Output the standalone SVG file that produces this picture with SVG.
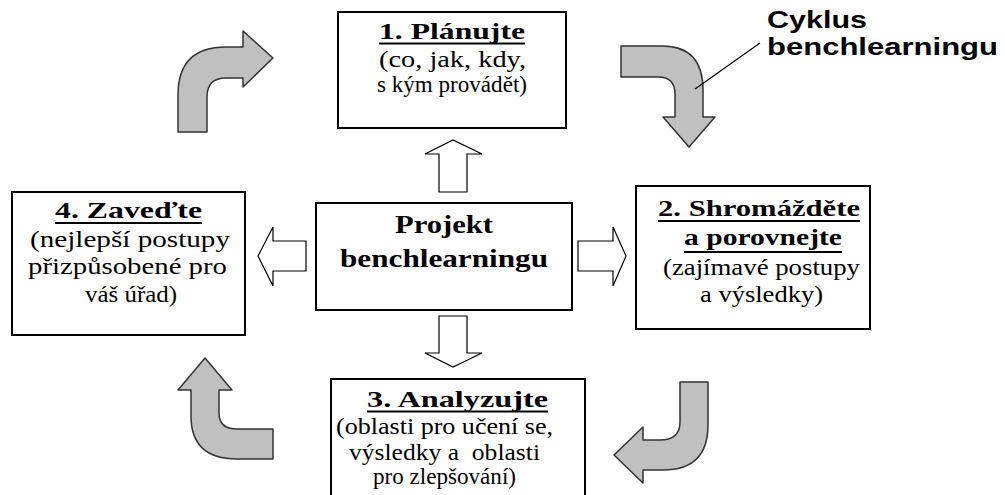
<svg xmlns="http://www.w3.org/2000/svg" width="1005" height="495" viewBox="0 0 1005 495">
<style>
.box{fill:#fff;stroke:#000;stroke-width:2}
.hollow{fill:#fff;stroke:#000;stroke-width:1.2;stroke-linejoin:miter}
.curve{fill:#c0c0c0;stroke:#333;stroke-width:1.5;stroke-linejoin:round}
.t{fill:#000;font-family:'Liberation Serif','Times New Roman',serif}
.h{font-size:24px;font-weight:bold}
.b{font-size:23px}
.c{font-size:25px;font-weight:bold}
.ul{stroke:#000;stroke-width:1.8}
.lbl{font-weight:bold;font-size:23px;fill:#000;font-family:'Liberation Sans',Arial,sans-serif}
</style>
<rect width="1005" height="495" fill="#fff"/>
<g id="connectors">
<polygon class="hollow" points="439,192 467,192 467,154 482,154 453,140 425,154 439,154"/>
<polygon class="hollow" points="439,316 467,316 467,353 482,353 453,367 425,353 439,353"/>
<polygon class="hollow" points="578,241 613,241 613,227 626,256 613,286 613,271 578,271"/>
<polygon class="hollow" points="306,241 273,241 273,227 258,256 273,286 273,271 306,271"/>
<path class="curve" d="M178,132 L178,95 Q178,47 226,47 L243,47 L243,31 L273,58 L243,87 L243,78 L226,78 Q207,78 207,97 L207,132 Z"/>
<path class="curve" d="M621,46 L662,46 Q703,46 703,90 L703,117 L715,117 L689,147 L663,117 L675,117 L675,94 Q675,77 658,77 L621,77 Z"/>
<path class="curve" d="M680,382 L708,382 L708,425 Q708,470 663,470 L643,470 L643,483 L614,455 L643,427 L643,440 L660,440 Q680,440 680,422 Z"/>
<path class="curve" d="M205,358 L232,390 L219,390 L219,413 Q219,429 237,429 L273,429 L273,459 L237,459 Q191,459 191,416 L191,390 L178,390 Z"/>
<line x1="695" y1="89" x2="760" y2="43" stroke="#000" stroke-width="1.2"/>
</g>
<g id="label">
<text class="lbl" x="767" y="28" textLength="100" lengthAdjust="spacingAndGlyphs">Cyklus</text>
<text class="lbl" x="767" y="55" textLength="231" lengthAdjust="spacingAndGlyphs">benchlearningu</text>
</g>
<g id="node-plan">
<rect class="box" x="338" y="12" width="228" height="116"/>
<text class="t h" x="379" y="39" textLength="146" lengthAdjust="spacingAndGlyphs">1. Plánujte</text>
<line class="ul" x1="379" y1="43.5" x2="525" y2="43.5"/>
<text class="t b" x="379" y="67" textLength="147" lengthAdjust="spacingAndGlyphs">(co, jak, kdy,</text>
<text class="t b" x="377" y="92" textLength="150" lengthAdjust="spacingAndGlyphs">s kým provádět)</text>
</g>
<g id="node-center">
<rect class="box" x="316" y="203" width="256" height="107"/>
<text class="t c" x="395" y="233" textLength="98" lengthAdjust="spacingAndGlyphs">Projekt</text>
<text class="t c" x="340" y="267" textLength="208" lengthAdjust="spacingAndGlyphs">benchlearningu</text>
</g>
<g id="node-collect">
<rect class="box" x="636" y="186" width="234" height="143"/>
<text class="t h" x="658" y="216" textLength="202" lengthAdjust="spacingAndGlyphs">2. Shromážděte</text>
<line class="ul" x1="658" y1="221" x2="860" y2="221"/>
<text class="t h" x="684" y="245" textLength="158" lengthAdjust="spacingAndGlyphs">a porovnejte</text>
<line class="ul" x1="684" y1="252" x2="842" y2="252"/>
<text class="t b" x="663" y="275" textLength="197" lengthAdjust="spacingAndGlyphs">(zajímavé postupy</text>
<text class="t b" x="700" y="302" textLength="123" lengthAdjust="spacingAndGlyphs">a výsledky)</text>
</g>
<g id="node-implement">
<rect class="box" x="12" y="192" width="233" height="143"/>
<text class="t h" x="55" y="218" textLength="147" lengthAdjust="spacingAndGlyphs">4. Zaveďte</text>
<line class="ul" x1="55" y1="223" x2="202" y2="223"/>
<text class="t b" x="30" y="247" textLength="200" lengthAdjust="spacingAndGlyphs">(nejlepší postupy</text>
<text class="t b" x="28" y="274" textLength="199" lengthAdjust="spacingAndGlyphs">přizpůsobené pro</text>
<text class="t b" x="85" y="302" textLength="92" lengthAdjust="spacingAndGlyphs">váš úřad)</text>
</g>
<g id="node-analyze">
<rect class="box" x="331" y="379" width="254" height="130"/>
<text class="t h" x="367" y="407" textLength="181" lengthAdjust="spacingAndGlyphs">3. Analyzujte</text>
<line class="ul" x1="367" y1="411.5" x2="548" y2="411.5"/>
<text class="t b" x="336" y="434" textLength="217" lengthAdjust="spacingAndGlyphs">(oblasti pro učení se,</text>
<text class="t b" x="349" y="460" textLength="191" lengthAdjust="spacingAndGlyphs" xml:space="preserve">výsledky a  oblasti</text>
<text class="t b" x="373" y="484" textLength="143" lengthAdjust="spacingAndGlyphs">pro zlepšování)</text>
</g>
</svg>
